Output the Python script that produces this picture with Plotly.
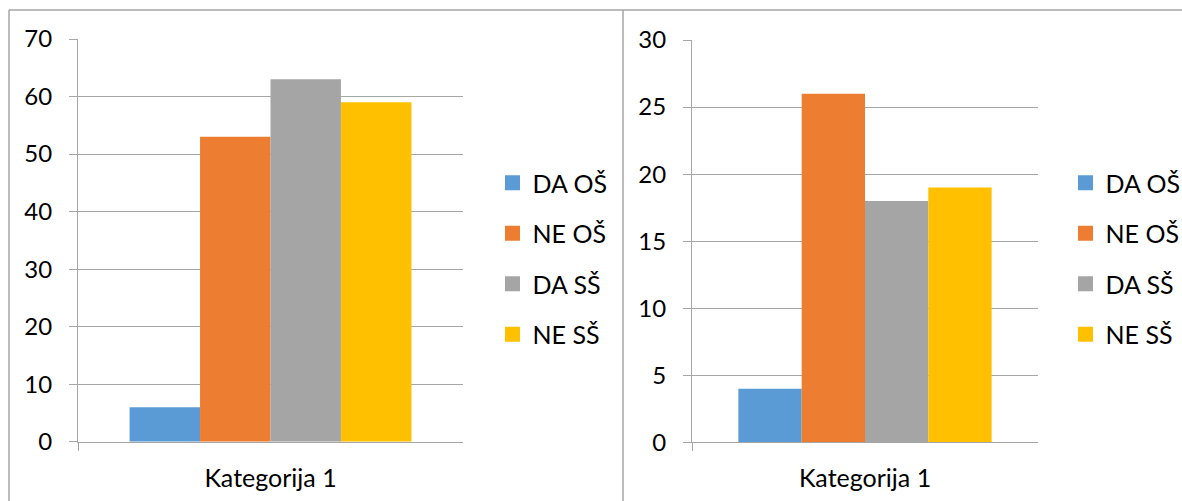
import plotly.graph_objects as go

W, H = 1182, 501

categories = ["Kategorija 1"]
series_names = ["DA OŠ", "NE OŠ", "DA SŠ", "NE SŠ"]
colors = ["#5B9BD5", "#ED7D31", "#A5A5A5", "#FFC000"]
left_values = [6, 53, 63, 59]
right_values = [4, 26, 18, 19]
left_ticks = [0, 10, 20, 30, 40, 50, 60, 70]
right_ticks = [0, 5, 10, 15, 20, 25, 30]

FONT = "Lato"
GRID = "#A6A6A6"
FS = 24

def px_x(x):
    return x / W

def px_y(y):
    return 1 - y / H

fig = go.Figure()

for i, name in enumerate(series_names):
    fig.add_trace(go.Bar(x=categories, y=[left_values[i]], name=name,
                         marker=dict(color=colors[i], line=dict(width=0)),
                         xaxis="x", yaxis="y", showlegend=False))
    fig.add_trace(go.Bar(x=categories, y=[right_values[i]], name=name,
                         marker=dict(color=colors[i], line=dict(width=0)),
                         xaxis="x2", yaxis="y2", showlegend=False))

# legend proxies
for i, name in enumerate(series_names):
    fig.add_trace(go.Scatter(x=[None], y=[None], mode="markers", name=name,
                             marker=dict(symbol="square", size=15, color=colors[i]),
                             xaxis="x", yaxis="y", legend="legend", legendgroup="g%d" % i))
    fig.add_trace(go.Scatter(x=[None], y=[None], mode="markers", name=name,
                             marker=dict(symbol="square", size=15, color=colors[i]),
                             xaxis="x2", yaxis="y2", legend="legend2", legendgroup="h%d" % i))

xcommon = dict(type="category", range=[-0.5, 0.5], showline=True, linecolor=GRID, linewidth=1,
               ticks="outside", tickson="boundaries", ticklen=8, tickcolor=GRID, tickwidth=1,
               showgrid=False, zeroline=False, fixedrange=True, automargin=False,
               ticklabelstandoff=14,
               tickfont=dict(family=FONT, size=FS + 1, color="#000000"))
ycommon = dict(showline=True, linecolor=GRID, linewidth=1, ticks="outside", ticklen=8,
               tickcolor=GRID, tickwidth=1, showgrid=True, gridcolor=GRID, gridwidth=1,
               zeroline=False, fixedrange=True, ticklabelstandoff=12, automargin=False,
               tickfont=dict(family=FONT, size=FS, color="#000000"))

legend_common = dict(font=dict(family=FONT, size=25, color="#000000"),
                     bgcolor="rgba(0,0,0,0)", borderwidth=0, tracegroupgap=15,
                     itemsizing="trace", xanchor="left", yanchor="middle")

fig.update_layout(
    width=W, height=H, margin=dict(l=0, r=0, t=0, b=0, autoexpand=False),
    paper_bgcolor="white", plot_bgcolor="white",
    barmode="group", bargap=0.268, bargroupgap=0,
    xaxis=dict(domain=[px_x(78), px_x(463)], anchor="y", **xcommon),
    yaxis=dict(domain=[px_y(441.7), px_y(39)], anchor="x", range=[0, 70],
               tickvals=left_ticks, **ycommon),
    xaxis2=dict(domain=[px_x(692), px_x(1038)], anchor="y2", **xcommon),
    yaxis2=dict(domain=[px_y(442.3), px_y(40)], anchor="x2", range=[0, 30],
                tickvals=right_ticks, **ycommon),
    legend=dict(x=px_x(492.5), y=px_y(258.5), **legend_common),
    legend2=dict(x=px_x(1065.5), y=px_y(258.5), **legend_common),
    shapes=[
        dict(type="line", xref="paper", yref="paper", x0=px_x(9), x1=1, y0=px_y(10), y1=px_y(10),
             line=dict(color=GRID, width=1.5)),
        dict(type="line", xref="paper", yref="paper", x0=px_x(9), x1=px_x(9), y0=px_y(10), y1=0,
             line=dict(color=GRID, width=1.5)),
        dict(type="line", xref="paper", yref="paper", x0=px_x(623), x1=px_x(623), y0=px_y(10), y1=0,
             line=dict(color=GRID, width=1.5)),
    ],
)

fig.write_html("out.html", config={"displayModeBar": False, "staticPlot": True},
               post_script="document.body.style.margin='0';document.body.style.overflow='hidden';")
